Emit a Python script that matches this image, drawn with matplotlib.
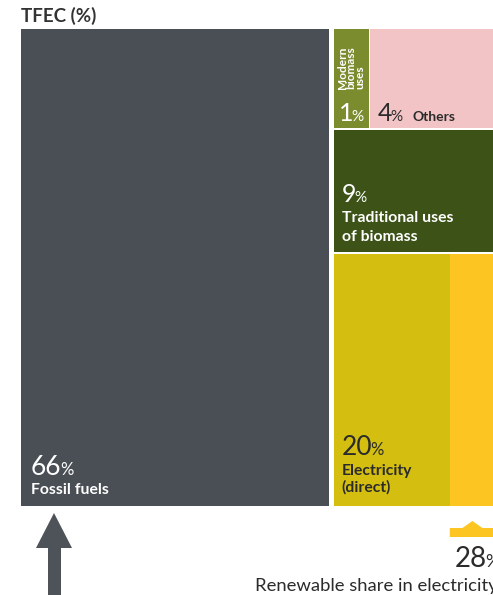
import matplotlib
matplotlib.use("Agg")
import matplotlib.pyplot as plt
from matplotlib.patches import Rectangle, Polygon

# ---------------- data ----------------
categories = ["Fossil fuels", "Modern biomass uses", "Others",
              "Traditional uses of biomass", "Electricity (direct)"]
shares = [66, 1, 4, 9, 20]
renewable_share_electricity = 28
title = "TFEC (%)"
bottom_label = "Renewable share in electricity"

# ---------------- style / layout ----------------
W, H = 493, 595
FONT = ["Lato", "DejaVu Sans"]
C_FOSSIL = "#4a4f55"
C_MODERN = "#7b8c2f"
C_OTHERS = "#f2c4c6"
C_TRAD = "#3c5217"
C_ELEC = "#d4bf11"
C_RENEW = "#fdc521"
C_ARROW = "#4d5358"
C_TEXT = "#2b2b2b"

BOX_L, BOX_T, BOX_R, BOX_B = 21, 29, 492, 506
GAP_X, GAP_Y, GAP_IN = 5, 2, 1
ROW_FRACTIONS = [0.21, 0.257, 0.533]   # visual row heights of the right column

fig = plt.figure(figsize=(W / 100, H / 100), dpi=100)
ax = fig.add_axes([0, 0, 1, 1])
ax.set_xlim(0, W)
ax.set_ylim(H, 0)
ax.axis("off")

fossil, modern, others, trad, elec = shares
total = sum(shares)

# column split driven by the data
avail = BOX_R - BOX_L - GAP_X
fossil_w = avail * fossil / total
x_r0 = BOX_L + fossil_w + GAP_X
right_w = BOX_R + 3 - x_r0
col_h = BOX_B - BOX_T - 2 * GAP_Y

def rect(x, y, w, h, c):
    ax.add_patch(Rectangle((x, y), w, h, facecolor=c, edgecolor="none"))

# fossil fuels
rect(BOX_L, BOX_T, fossil_w, BOX_B - BOX_T, C_FOSSIL)

# right column rows
h1, h2, h3 = [f * col_h for f in ROW_FRACTIONS]
y1 = BOX_T
y2 = y1 + h1 + GAP_Y
y3 = y2 + h2 + GAP_Y

row_w = right_w - GAP_IN
mod_w = row_w * modern / (modern + others) + 3
rect(x_r0, y1, mod_w, h1, C_MODERN)
oth_x = x_r0 + mod_w + GAP_IN
rect(oth_x, y1, x_r0 + right_w - oth_x, h1, C_OTHERS)
rect(x_r0, y2, right_w, h2, C_TRAD)
ren_w = right_w * renewable_share_electricity / 100
split_x = x_r0 + right_w - ren_w
rect(x_r0, y3, split_x - x_r0, h3, C_ELEC)
rect(split_x, y3, ren_w, h3, C_RENEW)

fig.canvas.draw()
renderer = fig.canvas.get_renderer()

def num_pct(x, y, num, size, color, psize, weight="normal"):
    t = ax.text(x, y, str(num), fontsize=size, color=color, family=FONT,
                va="baseline", ha="left", fontweight=weight)
    bb = t.get_window_extent(renderer=renderer)
    x_end = ax.transData.inverted().transform((bb.x1, bb.y0))[0]
    ax.text(x_end - 1.5, y, "%", fontsize=psize, color=color, family=FONT,
            va="baseline", ha="left")
    return x_end

# title
ax.text(BOX_L, 22, title, fontsize=13.5, fontweight="bold", color="#333333",
        family=FONT, va="baseline", ha="left")

LBL = 11.3
# fossil fuels label
num_pct(BOX_L + 10, 475, fossil, 19, "white", 12)
ax.text(BOX_L + 10, 494, categories[0], fontsize=LBL, fontweight="bold",
        color="white", family=FONT, va="baseline")

# modern biomass
ax.text(x_r0 + 3, y1 + 60, "Modern\nbiomass\nuses", rotation=90, fontsize=8.6,
        fontweight="bold", color="white", family=FONT, va="bottom", ha="left",
        linespacing=0.78, multialignment="left")
num_pct(x_r0 + 5, y1 + 92, modern, 18, "white", 11)

# others
num_pct(oth_x + 8, y1 + 92, others, 18, C_TEXT, 11)
ax.text(oth_x + 43, y1 + 92, categories[2], fontsize=10, fontweight="bold",
        color=C_TEXT, family=FONT, va="baseline")

# traditional biomass
num_pct(x_r0 + 8, y2 + 72, trad, 18, "white", 11)
ax.text(x_r0 + 8, y2 + 92, "Traditional uses", fontsize=LBL, fontweight="bold",
        color="white", family=FONT, va="baseline")
ax.text(x_r0 + 8, y2 + 111, "of biomass", fontsize=LBL, fontweight="bold",
        color="white", family=FONT, va="baseline")

# electricity
num_pct(x_r0 + 8, y3 + 201, elec, 19, C_TEXT, 12)
ax.text(x_r0 + 8, y3 + 221, "Electricity", fontsize=LBL, fontweight="bold",
        color=C_TEXT, family=FONT, va="baseline")
ax.text(x_r0 + 8, y3 + 238, "(direct)", fontsize=LBL, fontweight="bold",
        color=C_TEXT, family=FONT, va="baseline")

# arrow under fossil fuels
ax_c = BOX_L + 33
ax.add_patch(Polygon([(ax_c, BOX_B + 7), (ax_c - 18, BOX_B + 42), (ax_c - 6, BOX_B + 42),
                      (ax_c - 6, H + 5), (ax_c + 7, H + 5), (ax_c + 7, BOX_B + 42),
                      (ax_c + 18, BOX_B + 42)],
                     closed=True, facecolor=C_ARROW, edgecolor="none"))

# renewable marker
mc = split_x + ren_w / 2
ax.add_patch(Polygon([(split_x, BOX_B + 31), (split_x, BOX_B + 22), (mc - 10, BOX_B + 22),
                      (mc, BOX_B + 15), (mc + 10, BOX_B + 22), (W + 5, BOX_B + 22),
                      (W + 5, BOX_B + 31)],
                     closed=True, facecolor=C_RENEW, edgecolor="none"))

num_pct(455, 567, renewable_share_electricity, 20, C_TEXT, 13)
ax.text(255, 591, bottom_label, fontsize=13.3, color=C_TEXT, family=FONT,
        va="baseline", ha="left")

fig.savefig("out.png", dpi=100)
